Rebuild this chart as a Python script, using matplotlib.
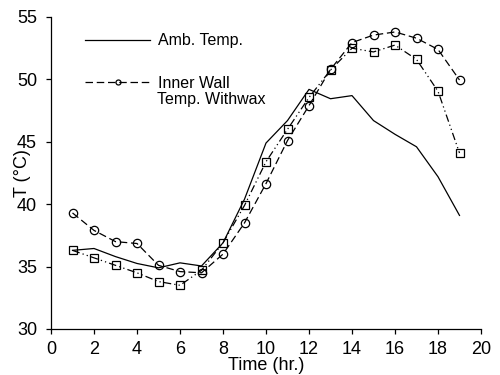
import numpy as np
import matplotlib
matplotlib.use('Agg')
from matplotlib import pyplot as plt

plt.rcParams['font.family'] = ['Liberation Sans', 'DejaVu Sans']

hours = [1, 2, 3, 4, 5, 6, 7, 8, 9, 10, 11, 12, 13, 14, 15, 16, 17, 18, 19]
amb_temp = [36.3, 36.45, 35.8, 35.25, 34.9, 35.3, 35.05, 36.9, 40.4, 44.9, 46.7,
            49.2, 48.45, 48.7, 46.7, 45.6, 44.6, 42.2, 39.1]
wall_wax = [39.3, 37.9, 37.0, 36.85, 35.1, 34.6, 34.5, 36.0, 38.5, 41.65, 45.1,
            47.9, 50.8, 52.95, 53.55, 53.8, 53.3, 52.4, 49.95]
wall_other = [36.3, 35.7, 35.1, 34.5, 33.8, 33.5, 34.7, 36.9, 39.9, 43.4, 46.0,
              48.55, 50.75, 52.5, 52.2, 52.75, 51.6, 49.05, 44.1]

fig = plt.figure(figsize=(5, 3.75), dpi=100)
ax = fig.add_axes([0.102, 0.1227, 0.86, 0.832])

ax.plot(hours, amb_temp, color='black', lw=0.9, label='Amb. Temp.')
ax.plot(hours, wall_wax, color='black', lw=0.9, ls=(0, (6, 3)), marker='o',
        ms=6, mfc='none', mec='black', mew=0.9, label='Inner Wall')
ax.plot(hours, wall_other, color='black', lw=0.9, ls=(0, (6, 2.5, 1, 2.5, 1, 2.5)),
        marker='s', ms=6, mfc='none', mec='black', mew=0.9)

ax.set_xlim(0, 20)
ax.set_ylim(30, 55)
ax.set_xticks(range(0, 21, 2))
ax.set_yticks(range(30, 56, 5))
ax.tick_params(direction='out', length=3.5, width=0.9, labelsize=13)
ax.tick_params(axis='x', pad=5)
ax.tick_params(axis='y', pad=6.5)
for s in ['top', 'right']:
    ax.spines[s].set_visible(False)
for s in ['left', 'bottom']:
    ax.spines[s].set_linewidth(0.9)

ax.set_xlabel('Time (hr.)', fontsize=13)
ax.xaxis.set_label_coords(0.5, -0.09)
ax.set_ylabel('T (°C)', fontsize=13)
ax.yaxis.set_label_coords(-0.047, 0.5)

ax.legend(loc='upper left', bbox_to_anchor=(0.079, 0.948), frameon=False,
          fontsize=11.5, handlelength=4.1, labelspacing=1.72, handletextpad=0.45,
          borderpad=0, borderaxespad=0, markerscale=0.6)
ax.text(0.247, 0.737, 'Temp. Withwax', transform=ax.transAxes, fontsize=11.5,
        ha='left', va='center')

fig.savefig('out.png', dpi=100)
